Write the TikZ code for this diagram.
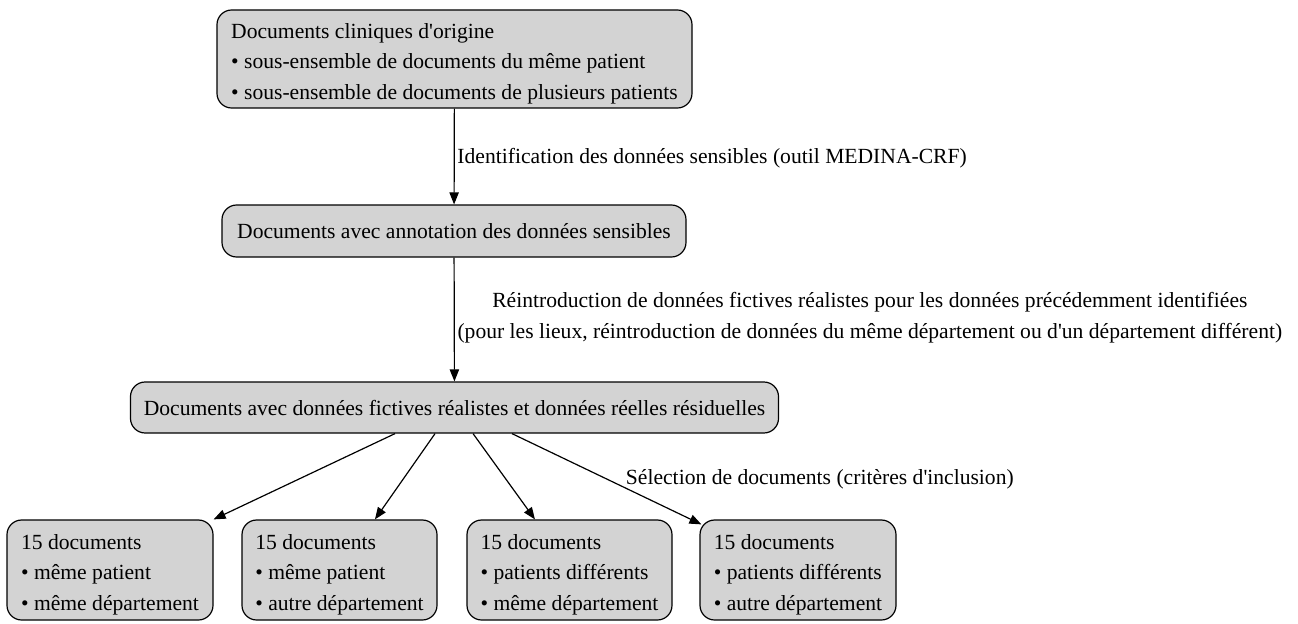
\documentclass[tikz,border=0pt]{standalone}
\usepackage{fontspec}
\setmainfont{Liberation Serif}
\usetikzlibrary{arrows.meta,calc}

\definecolor{boxgray}{HTML}{D3D3D3}
\newcommand{\apos}{\textquotesingle}
\newcommand{\firstline}{\rule{0pt}{18pt}}
\tikzset{
  docbox/.style={draw, fill=boxgray, rounded corners=11pt, line width=0.9pt,
    align=left, inner xsep=10pt, inner ysep=2pt,
    font=\fontsize{16.2}{22.9}\selectfont},
  flow/.style={->, line width=0.9pt},
  steplabel/.style={font=\fontsize{16.2}{23.2}\selectfont, inner sep=2pt}
}

\begin{document}
\begin{tikzpicture}[x=0.75pt, y=-0.75pt, >={Triangle[length=9pt,width=7pt]}]
\useasboundingbox (0,0) rectangle (1298,624);

% boxes
\node[docbox, minimum width=356.25pt, minimum height=73.5pt] (orig) at (454.5,59)
  {\firstline Documents cliniques d\apos origine\\
   • sous-ensemble de documents du même patient\\
   • sous-ensemble de documents de plusieurs patients};
\node[docbox, minimum width=348pt, minimum height=39pt] (annot) at (454,231)
  {Documents avec annotation des données sensibles};
\node[docbox, minimum width=485.25pt, minimum height=38.25pt] (fict) at (454.5,407.5)
  {Documents avec données fictives réalistes et données réelles résiduelles};

\node[docbox, minimum width=154.5pt, minimum height=75pt] (bota) at (110,570)
  {\firstline 15 documents\\• même patient\\• même département};
\node[docbox, minimum width=146.25pt, minimum height=75pt] (botb) at (339.5,570)
  {\firstline 15 documents\\• même patient\\• autre département};
\node[docbox, minimum width=153.75pt, minimum height=75pt] (botc) at (569.5,570)
  {\firstline 15 documents\\• patients différents\\• même département};
\node[docbox, minimum width=147pt, minimum height=75pt] (botd) at (798,570)
  {\firstline 15 documents\\• patients différents\\• autre département};

% connectors
\draw[flow] (orig) -- (annot)
  node[midway, right, steplabel, yshift=-1pt] {Identification des données sensibles (outil MEDINA-CRF)};
\draw[flow] (annot) -- (fict)
  node[midway, right, steplabel, align=center, yshift=1.5pt] {Réintroduction de données fictives réalistes pour les données précédemment identifiées\\
  (pour les lieux, réintroduction de données du même département ou d\apos un département différent)};

\draw[flow] ([xshift=-44.6pt]fict.south) -- (bota.north east);
\draw[flow] ([xshift=-14.6pt]fict.south) -- ([xshift=26.6pt]botb.north);
\draw[flow] ([xshift=13.9pt]fict.south) -- ([xshift=-25.9pt]botc.north);
\draw[flow] ([xshift=43.1pt]fict.south) -- ([shift={(2,5)}]botd.north west)
  node[midway, right, steplabel, xshift=12pt] {Sélection de documents (critères d\apos inclusion)};
\end{tikzpicture}
\end{document}
